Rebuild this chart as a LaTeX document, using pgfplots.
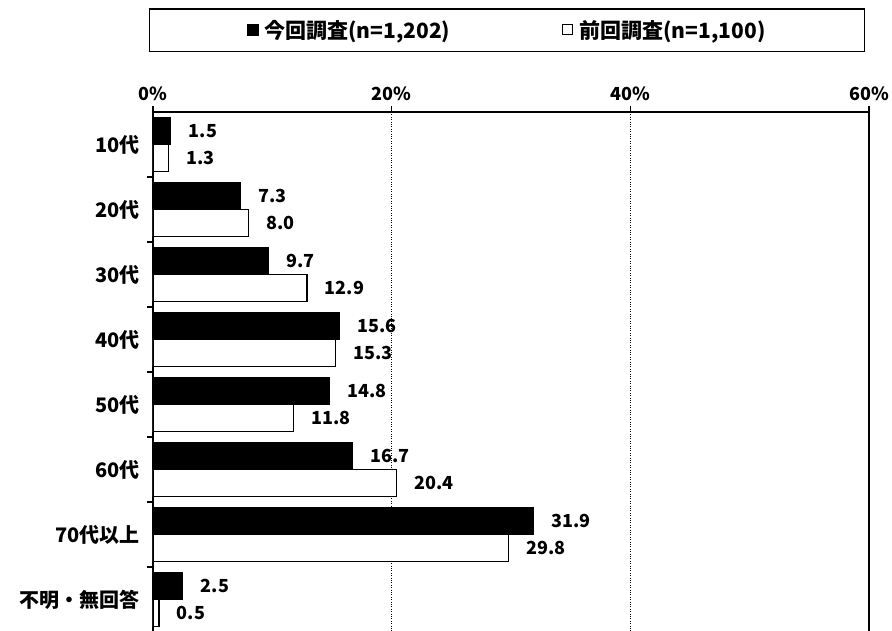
\documentclass[border=0pt]{standalone}
\usepackage{pgfplots}
\pgfplotsset{compat=1.18}
\usepackage{fontspec}
\setmainfont{Noto Sans CJK JP}
\begin{document}
\begin{tikzpicture}
\useasboundingbox (-153pt,112pt) rectangle (739pt,-518pt);
\begin{axis}[
  at={(0pt,0pt)}, anchor=north west,
  scale only axis, width=716pt, height=520pt,
  /pgf/number format/assume math mode=true,
  xbar, bar width=27pt,
  xmin=0, xmax=60, ymin=-0.5, ymax=7.5, y dir=reverse,
  axis line style={line width=1.6pt, black},
  xtick={0,20,40,60}, xtick pos=right, xticklabel pos=right,
  xticklabel={\pgfmathprintnumber{\tick}\%},
  xticklabel style={font=\fontsize{18}{22}\selectfont\bfseries, yshift=2pt},
  xmajorgrids, grid style={dotted, line width=0.9pt, black},
  ytick={0.5,1.5,2.5,3.5,4.5,5.5,6.5}, yticklabels={,,,,,,}, ytick pos=left,
  extra y ticks={0,1,2,3,4,5,6,7},
  extra y tick labels={10代,20代,30代,40代,50代,60代,70代以上,不明・無回答},
  extra y tick style={major tick length=0pt, yticklabel style={font=\fontsize{20}{24}\selectfont\bfseries, anchor=east, xshift=-10pt}},
  tick align=outside, major tick length=6pt,
  tick style={line width=1.2pt, black},
  nodes near coords={\pgfmathprintnumber[fixed,fixed zerofill,precision=1]{\pgfplotspointmeta}},
  nodes near coords style={font=\fontsize{18}{22}\selectfont\bfseries, text=black, anchor=west, xshift=14pt},
  legend columns=2,
  legend style={at={(0.4944,1.157)}, anchor=center, draw=black, line width=1.6pt,
    inner xsep=97pt, inner ysep=9.5pt,
    font=\fontsize{21}{25}\selectfont\bfseries,
    /tikz/every odd column/.append style={column sep=4pt},
    /tikz/every even column/.append style={column sep=110pt}},
]
\addplot+[draw=black, fill=black, line width=1.2pt, bar shift=13.5pt,
  legend image code/.code={\draw[fill=black,draw=black,line width=0.8pt] (0pt,-5pt) rectangle (11pt,6pt);}]
  coordinates {(1.5,0) (7.3,1) (9.7,2) (15.6,3) (14.8,4) (16.7,5) (31.9,6) (2.5,7)};
\addlegendentry{今回調査(n=1,202)}
\addplot+[draw=black, fill=white, line width=1.2pt, bar shift=-13.5pt,
  legend image code/.code={\draw[fill=white,draw=black,line width=1.2pt] (0pt,-4.5pt) rectangle (10pt,5.5pt);}]
  coordinates {(1.3,0) (8.0,1) (12.9,2) (15.3,3) (11.8,4) (20.4,5) (29.8,6) (0.5,7)};
\addlegendentry{前回調査(n=1,100)}
\end{axis}
\end{tikzpicture}
\end{document}
